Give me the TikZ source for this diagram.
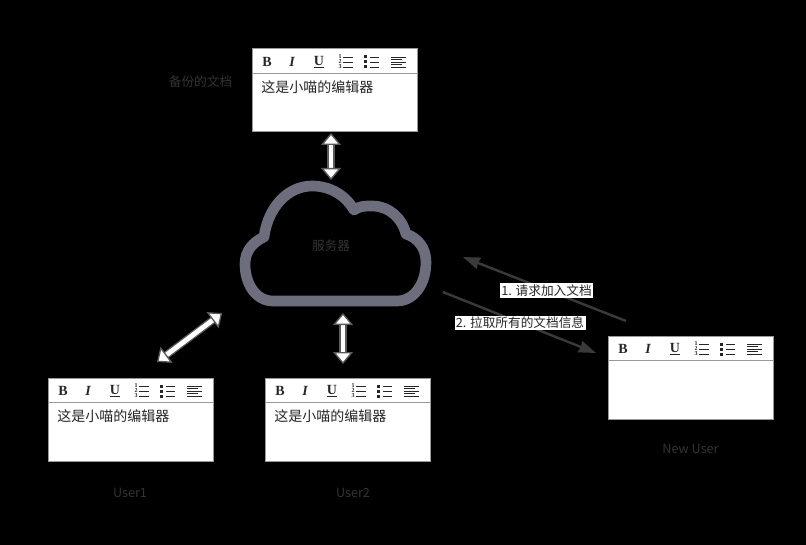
\documentclass[tikz,border=0pt]{standalone}
\usepackage{fontspec}
\usepackage{xcolor}
\usepackage{tikz}
\usetikzlibrary{arrows.meta}
\setmainfont{Noto Sans CJK SC}
\newfontfamily\toolfont{Liberation Serif}
\definecolor{Ink}{HTML}{262626}
\definecolor{Muted}{HTML}{333333}
\definecolor{Frame}{HTML}{999999}
\definecolor{Slate}{HTML}{6C6E7E}
\definecolor{Wire}{HTML}{3A3A3A}
\definecolor{Rim}{HTML}{5A5A5A}

\tikzset{
  pics/editor/.style={code={
    \node[box] (-box) at (0,0) {};
    \draw[Frame, line width=0.75pt] (0,24.5) -- (165,24.5);
    \node[tool] (-bold) at (15,13) {\bfseries B};
    \node[tool] (-ital) at (40,13) {\bfseries\itshape I};
    \node[tool] (-under) at (67,13) {\bfseries\underline{U}};
    \foreach \n/\y in {1/8,2/13,3/18}{
      \node[tool, font=\toolfont\bfseries\fontsize{4.5}{5}\selectfont] (-num\n) at (88,\y) {\n};
      \draw[Ink, line width=0.6pt] (91,\y) -- (101,\y);
      \fill[Ink] (112,\y-1.5) rectangle (115,\y+1.5);
      \draw[Ink, line width=0.6pt] (118,\y) -- (127,\y);
    }
    \foreach \y/\e in {8/154,10.5/150,13/154,15.5/150,18/154}{
      \draw[Ink, line width=0.6pt] (139,\y) -- (\e,\y);
    }
    \node[anchor=west, inner sep=0pt, text=Ink, font=\fontsize{10.5}{12}\selectfont] (-text) at (9,38) {#1};
  }}
}

\begin{document}
\begin{tikzpicture}[
  x=0.75pt, y=-0.75pt,
  box/.style={draw=Frame, line width=0.75pt, fill=white, anchor=north west, inner sep=0pt, outer sep=0pt, minimum width=123.75pt, minimum height=62.25pt},
  tool/.style={inner sep=0pt, text=Ink, font=\toolfont\fontsize{10.5}{11}\selectfont},
  caption/.style={text=Muted, inner sep=0pt, font=\fontsize{9.5}{11}\selectfont},
  tag/.style={fill=white, text=Ink, inner sep=1pt, font=\fontsize{9.5}{11}\selectfont},
  sync/.style={{Stealth[inset=0pt, length=9pt, width=15pt, fill=white]}-{Stealth[inset=0pt, length=9pt, width=15pt, fill=white]}, draw=Rim, line width=1pt, double=white, double distance=3.6pt},
  wire/.style={-{Stealth[inset=1pt, length=13pt, width=9pt]}, draw=Wire, line width=1.8pt}
]
\fill[black] (0,0) rectangle (806,545);
\useasboundingbox (0,0) rectangle (806,545);

\pic (backup) at (252,49) {editor={这是小喵的编辑器}};
\pic (user1) at (48,378) {editor={这是小喵的编辑器}};
\pic (user2) at (265,378) {editor={这是小喵的编辑器}};
\pic (newuser) at (608,336) {editor={}};

% cloud outline
\draw[Slate, line width=8pt, line join=round] (273,301)
  .. controls (256,301) and (245,284) .. (245,264)
  .. controls (245,251) and (253,242) .. (264,237)
  .. controls (268,207) and (288,186) .. (312,186)
  .. controls (331,186) and (346,196) .. (354,210)
  .. controls (360,206) and (364,206) .. (372,206)
  .. controls (389,206) and (402,218) .. (406,234)
  .. controls (418,238) and (426,248) .. (426,262)
  .. controls (426,284) and (414,301) .. (397,301) -- cycle;
\node[minimum width=143pt, minimum height=94.5pt, inner sep=0pt, outer sep=0pt] (cloud) at (335.5,243) {};

\node[caption] (serverlabel) at (331,246) {服务器};
\node[caption] (backuplabel) at (200.5,82) {备份的文档};
\node[caption] (user1label) at (130,493) {User1};
\node[caption] (user2label) at (353,493) {User2};
\node[caption] (newuserlabel) at (690.5,449) {New User};

\draw[sync] ([shift={(-3.5,1)}]backup-box.south) -- ([shift={(-4.5,0)}]cloud.north);
\draw[sync] ([shift={(-4.5,-14)}]user2-box.north) -- ([shift={(7.5,7)}]cloud.south);
\draw[sync] ([shift={(26.5,-16)}]user1-box.north) -- ([shift={(-18,7)}]cloud.south west);

\draw[wire] ([shift={(-64.5,-15)}]newuser-box.north) -- ([shift={(32,14)}]cloud.east);
\draw[wire] ([shift={(12,49)}]cloud.east) -- ([shift={(-12,-24.5)}]newuser-box.west);

\node[tag] (joinlabel) at (546.5,290.5) {1. 请求加入文档};
\node[tag] (fetchlabel) at (520,323) {2. 拉取所有的文档信息};
\end{tikzpicture}
\end{document}
